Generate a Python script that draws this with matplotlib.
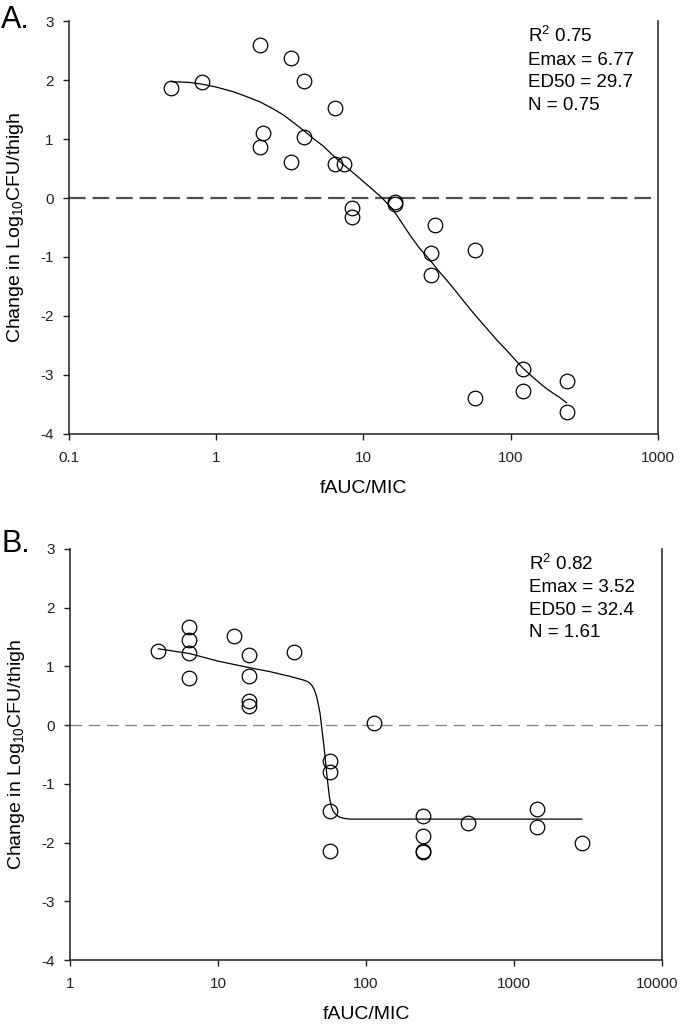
import numpy as np
import matplotlib
matplotlib.use("Agg")
import matplotlib.pyplot as plt
import matplotlib.transforms as mtransforms

plt.rcParams['font.family'] = ['Liberation Sans', 'DejaVu Sans']
plt.rcParams['mathtext.fontset'] = 'custom'
plt.rcParams['mathtext.rm'] = 'Liberation Sans'
plt.rcParams['mathtext.it'] = 'Liberation Sans'
plt.rcParams['axes.unicode_minus'] = False

# ---- Panel A data ---- #
a_x = [0.49, 0.80, 1.97, 2.08, 1.97, 3.22, 3.22, 3.94, 3.94, 6.45, 6.4, 7.35,
       8.3, 8.3, 16.4, 16.4, 30.6, 28.6, 28.6, 57.5, 57.5, 121, 121, 240, 240]
a_y = [1.86, 1.96, 2.60, 1.11, 0.87, 2.38, 0.61, 1.99, 1.04, 1.53, 0.57, 0.58,
       -0.17, -0.32, -0.06, -0.11, -0.45, -0.93, -1.30, -0.88, -3.39, -2.90, -3.27, -3.10, -3.63]
a_fit_x = [0.50, 0.65, 0.80, 1.0, 1.31, 1.6, 1.98, 2.4, 2.85, 3.3, 3.9, 4.5, 5.33,
           6.1, 7.1, 8.4, 9.98, 11.7, 13.4, 15.9, 18, 20.7, 24, 28.3, 32, 36.7,
           43, 50.2, 58.5, 68.7, 80, 93.8, 107, 121.7, 139, 157.8, 175, 194.5, 215, 239.7]
a_fit_y = [1.97, 1.96, 1.93, 1.88, 1.80, 1.72, 1.63, 1.52, 1.41, 1.29, 1.15, 1.02, 0.88,
           0.74, 0.59, 0.44, 0.28, 0.13, 0.0, -0.20, -0.40, -0.63, -0.85, -1.05, -1.22, -1.39,
           -1.60, -1.81, -2.01, -2.21, -2.40, -2.58, -2.74, -2.89, -3.02, -3.14, -3.23, -3.31, -3.38, -3.47]
a_stats = ["R$^\\mathregular{2}$ 0.75", "Emax = 6.77", "ED50 = 29.7", "N = 0.75"]

# ---- Panel B data ---- #
b_x = [3.95, 6.4, 6.4, 6.4, 6.4, 12.8, 16.3, 16.3, 16.3, 16.3, 32.5, 113,
       57.5, 57.5, 57.5, 57.5, 243, 243, 243, 243, 485, 1440, 1440, 2870]
b_y = [1.27, 1.67, 1.45, 1.23, 0.80, 1.52, 1.19, 0.84, 0.41, 0.33, 1.24, 0.03,
       -0.61, -0.80, -1.46, -2.15, -1.54, -1.89, -2.14, -2.16, -1.67, -1.43, -1.73, -2.01]
b_fit_x = [3.95, 6.4, 10, 16.2, 22.5, 30.7, 38.7, 41, 43, 44.8, 46.4, 47.7, 48.9,
           50.1, 52.3, 54.2, 56.5, 58.2, 60.1, 63, 66.7, 72, 78, 2870]
b_fit_y = [1.30, 1.22, 1.09, 0.98, 0.91, 0.83, 0.76, 0.73, 0.68, 0.60, 0.48, 0.34, 0.20,
           -0.03, -0.42, -0.82, -1.22, -1.38, -1.47, -1.53, -1.57, -1.59, -1.60, -1.60]
b_stats = ["R$^\\mathregular{2}$ 0.82", "Emax = 3.52", "ED50 = 32.4", "N = 1.61"]

fig = plt.figure(figsize=(6.8, 10.25), dpi=100)
ax_a = fig.add_axes([0.1015, 0.5766, 0.866, 0.4029])
ax_b = fig.add_axes([0.103, 0.0634, 0.8706, 0.4010])


def style_axes(ax, xmin, xmax, ticks, ticklabels):
    ax.set_xscale("log")
    ax.set_xlim(xmin, xmax)
    ax.set_ylim(-4, 3)
    ax.set_xticks(ticks)
    ax.set_xticklabels(ticklabels)
    ax.xaxis.set_minor_locator(matplotlib.ticker.NullLocator())
    ax.set_yticks(range(-4, 4))
    ax.spines["top"].set_visible(False)
    for s in ["left", "bottom", "right"]:
        ax.spines[s].set_linewidth(1.1)
        ax.spines[s].set_color("#202020")
    ax.tick_params(axis="both", direction="out", length=4, width=1.0,
                   labelsize=11, colors="#202020")
    ax.tick_params(axis="x", pad=8)
    ax.tick_params(axis="y", pad=7)
    ax.set_xlabel("fAUC/MIC", fontsize=14, labelpad=11)
    ax.set_ylabel("Change in Log$_{\\mathregular{10}}$CFU/thigh", fontsize=14, labelpad=10)


# ---- Grafico A ---- #
style_axes(ax_a, 0.1, 1000, [0.1, 1, 10, 100, 1000], ["0.1", "1", "10", "100", "1000"])
ax_a.axhline(0, color="#505050", lw=1.6, dashes=(7.5, 3.1))
ax_a.plot(a_fit_x, a_fit_y, color="black", lw=0.9)
ax_a.plot(a_x, a_y, "o", ms=10.5, mfc="none", mec="black", mew=0.9)
for i, t in enumerate(a_stats):
    ax_a.text(0.779, 0.949 - i * 0.0545, t, transform=ax_a.transAxes,
              fontsize=13.5, va="baseline")
fig.text(0.002, 0.973, "A.", fontsize=22, va="baseline")

# ---- Grafico B ---- #
style_axes(ax_b, 1, 10000, [1, 10, 100, 1000, 10000], ["1", "10", "100", "1000", "10000"])
# keep the last tick label inside the figure edge
last = ax_b.get_xticklabels()[-1]
last.set_horizontalalignment("right")
last.set_transform(last.get_transform() + mtransforms.ScaledTranslation(0.16, 0, fig.dpi_scale_trans))
ax_b.axhline(0, color="#808080", lw=0.9, dashes=(9.3, 5.3))
ax_b.plot(b_fit_x, b_fit_y, color="black", lw=0.9)
ax_b.plot(b_x, b_y, "o", ms=10.5, mfc="none", mec="black", mew=0.9)
for i, t in enumerate(b_stats):
    ax_b.text(0.776, 0.949 - i * 0.0545, t, transform=ax_b.transAxes,
              fontsize=13.5, va="baseline")
fig.text(0.002, 0.4615, "B.", fontsize=22, va="baseline")

fig.savefig("out.png", dpi=100)
